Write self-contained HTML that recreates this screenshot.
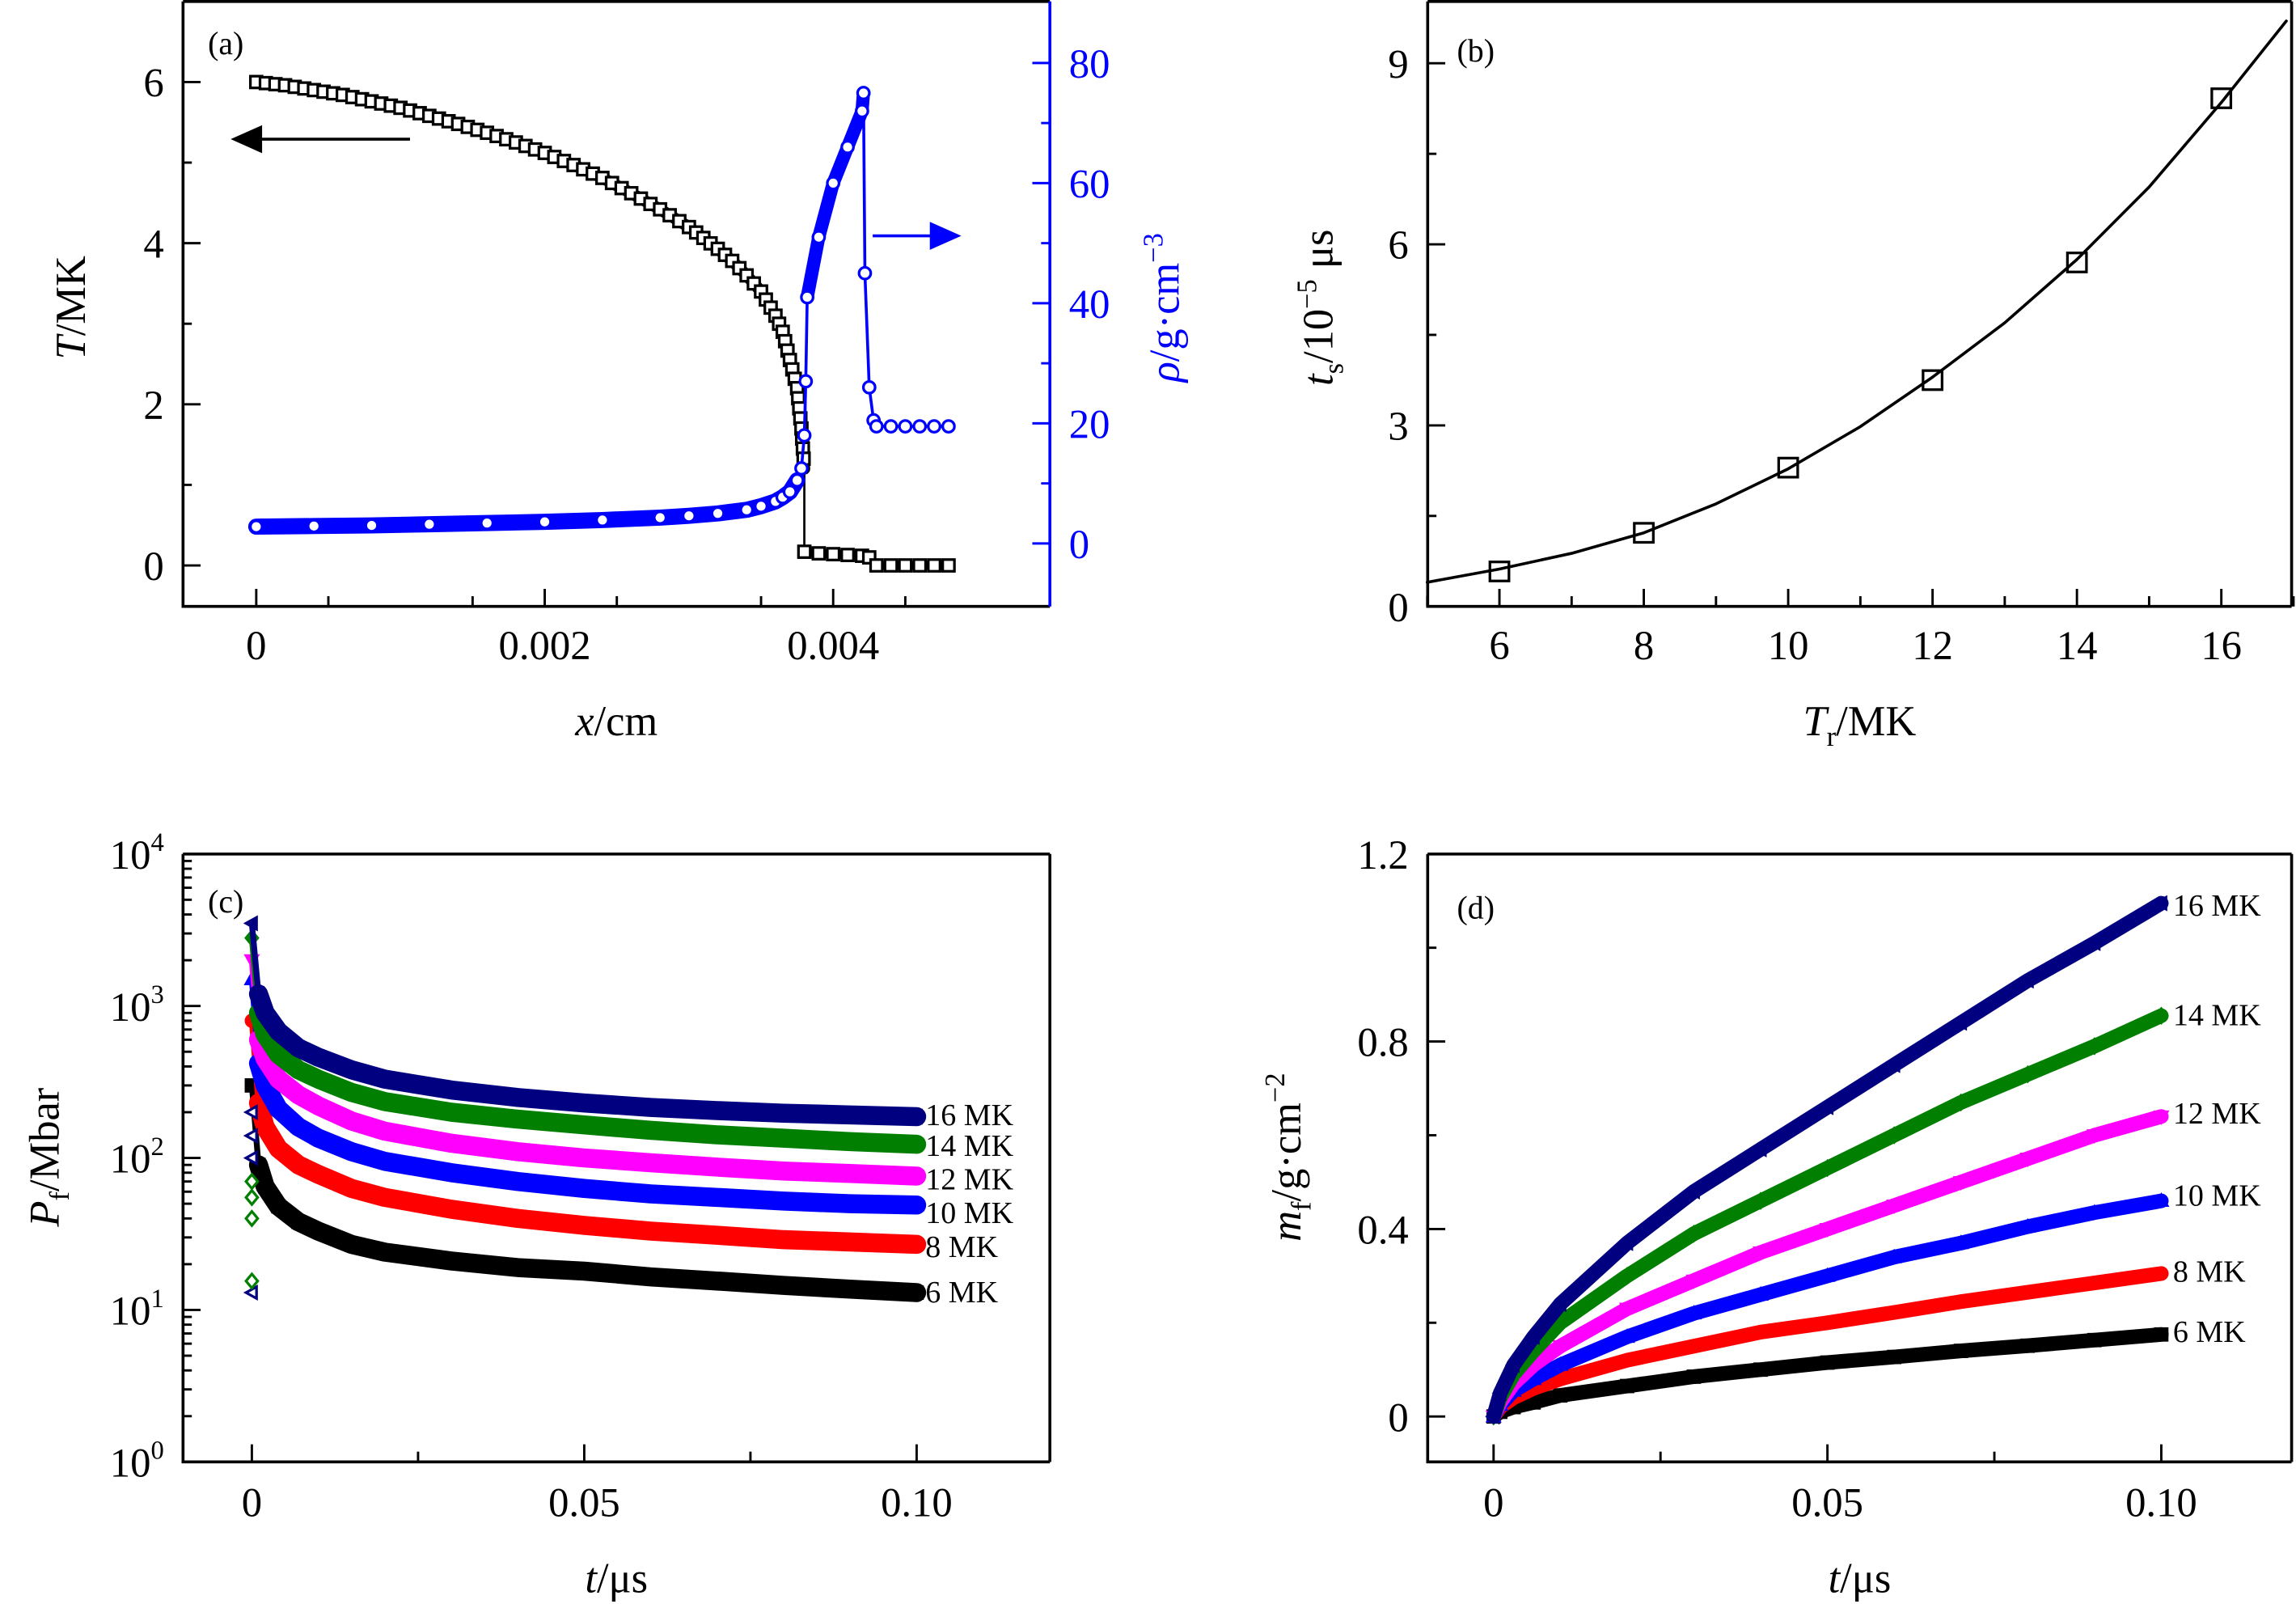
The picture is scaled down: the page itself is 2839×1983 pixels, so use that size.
<!DOCTYPE html>
<html><head><meta charset="utf-8"><style>
html,body{margin:0;padding:0;background:#fff;}
svg{display:block;font-family:"Liberation Serif",serif;}
</style></head><body>
<svg id="fig" xmlns="http://www.w3.org/2000/svg" width="2839" height="1983" viewBox="0 0 1568 1095" preserveAspectRatio="none">
<g font-size="29">
<text x="421" y="502" text-anchor="middle"><tspan font-style="italic">x</tspan>/cm</text>
<text transform="translate(58,210) rotate(-90)" text-anchor="middle"><tspan font-style="italic">T</tspan>/MK</text>
<text fill="#0000ff" transform="translate(805,210) rotate(-90)" text-anchor="middle"><tspan font-style="italic">ρ</tspan>/g·cm<tspan font-size="19" dy="-11">−3</tspan></text>
<text x="1270" y="502" text-anchor="middle"><tspan font-style="italic">T</tspan><tspan font-size="19" dy="7">r</tspan><tspan dy="-7">/MK</tspan></text>
<text transform="translate(910,210) rotate(-90)" text-anchor="middle"><tspan font-style="italic">t</tspan><tspan font-size="19" dy="7">s</tspan><tspan dy="-7">/10</tspan><tspan font-size="19" dy="-11">−5</tspan><tspan dy="11"> μs</tspan></text>
<text x="421" y="1087" text-anchor="middle"><tspan font-style="italic">t</tspan>/μs</text>
<text transform="translate(40,790) rotate(-90)" text-anchor="middle"><tspan font-style="italic">P</tspan><tspan font-size="19" dy="7">f</tspan><tspan dy="-7">/Mbar</tspan></text>
<text x="1270" y="1087" text-anchor="middle"><tspan font-style="italic">t</tspan>/μs</text>
<text transform="translate(888,790) rotate(-90)" text-anchor="middle"><tspan font-style="italic">m</tspan><tspan font-size="19" dy="7">f</tspan><tspan dy="-7">/g·cm</tspan><tspan font-size="19" dy="-11">−2</tspan></text>
</g>
</svg>
<script>
// ---- panel (a) data ----
const aX = [0,0.0002,0.0004,0.0006,0.0008,0.001,0.0012,0.0014,0.0016,0.0018,0.002,0.0022,0.0024,0.0026,0.0028,0.003,0.0032,0.0033,0.0034,0.0035,0.0036,0.00365,0.0037,0.00375,0.00378,0.0038];
const aT = [6.0,5.96,5.9,5.84,5.76,5.68,5.58,5.48,5.37,5.25,5.12,4.97,4.81,4.62,4.42,4.2,3.93,3.78,3.6,3.4,3.1,2.9,2.55,2.2,1.7,1.2];
const aX2 = [0.0038,0.0039,0.004,0.0041,0.0042,0.00425,0.0043,0.0044,0.0045,0.0046,0.0047,0.0048];
const aT2 = [0.17,0.15,0.14,0.13,0.12,0.1,0,0,0,0,0,0];
const rhoX = [0,0.0004,0.0008,0.0012,0.0016,0.002,0.0024,0.0028,0.003,0.0032,0.0034,0.0035,0.0036,0.00365,0.0037,0.00375,0.00378,0.0038,0.00381,0.00382,0.0039,0.004,0.0041,0.0042,0.00421,0.00422,0.00425,0.00428,0.0043,0.0044,0.0045,0.0046,0.0047,0.0048];
const rhoV = [2.8,2.9,3.0,3.2,3.4,3.6,3.9,4.3,4.6,5.0,5.6,6.2,7.0,7.7,8.6,10.5,12.5,18,27,41,51,60,66,72,75,45,26,20.5,19.5,19.5,19.5,19.5,19.5,19.5];
const aXTicks = [0,0.002,0.004], aXTickLabels = ['0','0.002','0.004'];
const aYTicks = [0,2,4,6], aY2Ticks = [0,20,40,60,80];
// ---- panel (b) data ----
const bT = [6,8,10,12,14,16];
const bTs = [0.58,1.22,2.3,3.75,5.7,8.42];
const bFitT = [5,6,7,8,9,10,11,12,13,14,15,16,16.9];
const bFitV = [0.4,0.62,0.88,1.22,1.7,2.28,2.98,3.8,4.7,5.75,6.95,8.35,9.7];
const bXTicks = [6,8,10,12,14,16], bYTicks = [0,3,6,9];
// ---- panel (c) data ----
const cTimes = [0,0.001,0.002,0.004,0.007,0.01,0.015,0.02,0.03,0.04,0.05,0.06,0.07,0.08,0.09,0.1];
const cP6 = [300,90,65,48,38,33,27,24,21,19,18,16.5,15.5,14.5,13.7,13];
const cP8 = [800,230,160,115,90,78,63,55,46,40,36,33,31,29,28,27];
const cP10 = [1500,420,300,210,160,135,110,95,80,70,63,58,55,52,50,49];
const cP12 = [2000,600,450,330,260,220,175,150,125,110,100,93,87,82,79,76];
const cP14 = [2800,900,650,480,380,330,270,235,200,180,165,152,142,135,128,123];
const cP16 = [3500,1200,900,680,530,460,380,330,280,250,230,215,205,197,192,187];
const cScatterP = [13,15.5,40,55,70,100,140,200];
const cLabels = ['6 MK','8 MK','10 MK','12 MK','14 MK','16 MK'];
const cXTicks = [0,0.05,0.1], cXTickLabels = ['0','0.05','0.10'];
// ---- panel (d) data ----
const dTimes = [0,0.001,0.003,0.006,0.01,0.02,0.03,0.04,0.05,0.06,0.07,0.08,0.09,0.1];
const dM6 = [0,0.01,0.02,0.03,0.045,0.065,0.085,0.1,0.115,0.127,0.14,0.151,0.163,0.175];
const dM8 = [0,0.02,0.04,0.06,0.08,0.12,0.15,0.18,0.2,0.222,0.245,0.265,0.285,0.305];
const dM10 = [0,0.025,0.055,0.08,0.11,0.17,0.22,0.26,0.3,0.34,0.37,0.405,0.435,0.46];
const dM12 = [0,0.03,0.07,0.11,0.15,0.23,0.29,0.35,0.4,0.45,0.5,0.55,0.6,0.64];
const dM14 = [0,0.04,0.09,0.14,0.2,0.3,0.39,0.46,0.53,0.6,0.67,0.73,0.79,0.855];
const dM16 = [0,0.05,0.11,0.17,0.24,0.37,0.48,0.57,0.66,0.75,0.84,0.93,1.01,1.095];
const dYTicks = [0,0.4,0.8,1.2], dYTickLabels = ['0','0.4','0.8','1.2'];

const NS='http://www.w3.org/2000/svg';
const svg=document.getElementById('fig');
function mk(tag,attrs,parent){const e=document.createElementNS(NS,tag);for(const k in attrs)e.setAttribute(k,attrs[k]);(parent||svg).appendChild(e);return e;}

const xA=v=>175+v/0.002*197, yA=v=>386-v*55, yAR=v=>371-v*4.1;
const xB=v=>1024+(v-6)*49.3, yB=v=>414-v*41.2;
const xC=v=>172+v*4540, yC=v=>998-Math.log10(v)*103.75;
const xD=v=>1020+v*4560, yD=v=>967-v*320;

function frame(name,l,t,r,b,colorRight){
  const g=mk('g',{});
  
  
  mk('path',{d:`M${l},${t}V${b}H${r}M${l},${t}H${r}`,fill:'none',stroke:'#000','stroke-width':2},g);
  mk('line',{x1:r,y1:t,x2:r,y2:b,stroke:colorRight||'#000','stroke-width':2},g);
  return g;
}
function tick(x1,y1,x2,y2,col){const l=mk('line',{x1,y1,x2,y2,stroke:col||'#000','stroke-width':1.6});
  
  
  return l;}
function label(x,y,txt,anchor,col,size){const t=mk('text',{x,y,'text-anchor':anchor||'middle',fill:col||'#000','font-size':size||28});t.textContent=txt;
  
  
  return t;}
function poly(pts,col,w,name){const p=mk('polyline',{points:pts.map(p=>p.join(',')).join(' '),fill:'none',stroke:col,'stroke-width':w,'stroke-linejoin':'round','stroke-linecap':'round'});
  
  
  return p;}
function marker(shape,x,y,s,col,fill){
  let e;
  if(shape==='sq')e=mk('rect',{x:x-s,y:y-s,width:2*s,height:2*s});
  else if(shape==='ci')e=mk('circle',{cx:x,cy:y,r:s});
  else if(shape==='tu')e=mk('polygon',{points:`${x},${y-s} ${x-s},${y+s*0.8} ${x+s},${y+s*0.8}`});
  else if(shape==='td')e=mk('polygon',{points:`${x},${y+s} ${x-s},${y-s*0.8} ${x+s},${y-s*0.8}`});
  else if(shape==='di')e=mk('polygon',{points:`${x},${y-s*1.2} ${x+s},${y} ${x},${y+s*1.2} ${x-s},${y}`});
  else e=mk('polygon',{points:`${x-s},${y} ${x+s*0.8},${y-s} ${x+s*0.8},${y+s}`});
  e.setAttribute('fill',fill||'#fff');e.setAttribute('stroke',col);e.setAttribute('stroke-width',1.8);
  
  
  return e;
}
// dense open markers along a polyline (visual texture only, drawn along data path)
function denseMarkers(pts,shape,s,col,step){
  for(let i=0;i<pts.length-1;i++){
    const [x1,y1]=pts[i],[x2,y2]=pts[i+1];
    const d=Math.hypot(x2-x1,y2-y1);const n=Math.max(1,Math.floor(d/step));
    for(let k=0;k<n;k++){marker(shape,x1+(x2-x1)*k/n,y1+(y2-y1)*k/n,s,col,'#fff');}
  }
}

// ===== Panel (a) =====
frame('panel-a',125,1,717,414,'#0000ff');
aXTicks.forEach((v,i)=>{tick(xA(v),414,xA(v),402);label(xA(v),450,aXTickLabels[i]);});
for(let v=0.0005;v<0.0055;v+=0.001)tick(xA(v),414,xA(v),407);
aYTicks.forEach(v=>{tick(125,yA(v),137,yA(v));label(112,yA(v)+10,String(v),'end');});
[1,3,5].forEach(v=>tick(125,yA(v),131,yA(v)));
aY2Ticks.forEach(v=>{tick(717,yAR(v),705,yAR(v),'#0000ff');label(730,yAR(v)+10,String(v),'start','#0000ff');});
[10,30,50,70].forEach(v=>tick(717,yAR(v),711,yAR(v),'#0000ff'));
const tPts=aX.map((v,i)=>[xA(v),yA(aT[i])]);
poly(tPts,'#000',8,'temperature-curve');
denseMarkers(tPts,'sq',4,'#000',6);
poly([[xA(aX[aX.length-1]),yA(aT[aT.length-1])],[xA(aX2[0]),yA(aT2[0])]],'#000',1.5,'temperature-drop');
poly(aX2.map((v,i)=>[xA(v),yA(aT2[i])]),'#000',6,'temperature-tail');
aX2.forEach((v,i)=>marker('sq',xA(v),yA(aT2[i]),4,'#000'));
poly(rhoX.map((v,i)=>[xA(v),yAR(rhoV[i])]),'#0000ff',2,'density-line');
poly(rhoX.slice(0,16).map((v,i)=>[xA(v),yAR(rhoV[i])]),'#0000ff',11,'density-dense');
poly(rhoX.slice(19,25).map((v,i)=>[xA(v),yAR(rhoV[i+19])]),'#0000ff',9,'density-peak');
rhoX.forEach((v,i)=>marker('ci',xA(v),yAR(rhoV[i]),4,'#0000ff'));
const pa=label(142,37,'(a)','start','#000',22);
let ar=mk('path',{d:'M280,95H176M160,95L178,87V103Z',stroke:'#000','stroke-width':2,fill:'#000'});


ar=mk('path',{d:'M596,161H638M654,161L636,153V169Z',stroke:'#0000ff','stroke-width':2,fill:'#0000ff'});



// ===== Panel (b) =====
frame('panel-b',975,1,1565,414);
bXTicks.forEach(v=>{tick(xB(v),414,xB(v),402);label(xB(v),450,String(v));});
[5,7,9,11,13,15,17].forEach(v=>tick(xB(v),414,xB(v),407));
bYTicks.forEach(v=>{tick(975,yB(v),987,yB(v));label(962,yB(v)+10,String(v),'end');});
[1.5,4.5,7.5].forEach(v=>tick(975,yB(v),981,yB(v)));
poly(bFitT.map((v,i)=>[xB(v),yB(bFitV[i])]),'#000',2,'fit-curve');
bT.forEach((v,i)=>marker('sq',xB(v),yB(bTs[i]),6.5,'#000','none'));
const pb=label(995,42,'(b)','start','#000',22);

// ===== Panel (c) =====
frame('panel-c',125,583,717,998);
cXTicks.forEach((v,i)=>{tick(xC(v),998,xC(v),986);label(xC(v),1035,cXTickLabels[i]);});
[0.025,0.075].forEach(v=>tick(xC(v),998,xC(v),991));
[0,1,2,3,4].forEach(e=>{tick(125,yC(Math.pow(10,e)),137,yC(Math.pow(10,e)));
  const t=mk('text',{x:112,y:yC(Math.pow(10,e))+10,'text-anchor':'end','font-size':28});
  
  
  t.innerHTML='10<tspan font-size="18" dy="-12">'+e+'</tspan>';});
for(let e=0;e<4;e++)for(let m=2;m<10;m++)tick(125,yC(m*Math.pow(10,e)),131,yC(m*Math.pow(10,e)));
const cSeries=[cP6,cP8,cP10,cP12,cP14,cP16];
const cCols=['#000','#ff0000','#0000ff','#ff00ff','#007f00','#000080'];
const cShapes=['sq','ci','tu','td','di','tl'];
const cLabY=[889,858,835,812,789,768];
cSeries.forEach((s,k)=>{
  poly(cTimes.slice(1).map((t,i)=>[xC(t),yC(s[i+1])]),cCols[k],13,'pressure-curve');
  poly([[xC(0),yC(s[0])],[xC(cTimes[1]),yC(s[1])]],cCols[k],4,'pressure-spike');
  cTimes.forEach((t,i)=>marker(cShapes[k],xC(t),yC(s[i]),4,cCols[k],cCols[k]));
  const l=label(632,cLabY[k],cLabels[k],'start','#000',21);
  
});
cScatterP.forEach((p,i)=>marker(i<5&&i>0?'di':'tl',xC(0),yC(p),4,i<5&&i>0?'#007f00':'#000080'));
const pc=label(142,623,'(c)','start','#000',22);

// ===== Panel (d) =====
frame('panel-d',975,583,1565,998);
cXTicks.forEach((v,i)=>{tick(xD(v),998,xD(v),986);label(xD(v),1035,cXTickLabels[i]);});
[0.025,0.075].forEach(v=>tick(xD(v),998,xD(v),991));
dYTicks.forEach((v,i)=>{tick(975,yD(v),987,yD(v));label(962,yD(v)+10,dYTickLabels[i],'end');});
[0.2,0.6,1.0].forEach(v=>tick(975,yD(v),981,yD(v)));
const dSeries=[dM6,dM8,dM10,dM12,dM14,dM16];
const dLabY=[916,875,823,767,700,625];
dSeries.forEach((s,k)=>{
  poly(dTimes.map((t,i)=>[xD(t),yD(s[i])]),cCols[k],10,'mass-curve');
  dTimes.forEach((t,i)=>marker(cShapes[k],xD(t),yD(s[i]),4,cCols[k],cCols[k]));
  const l=label(1484,dLabY[k],cLabels[k],'start','#000',21);
  
});
const pd=label(995,627,'(d)','start','#000',22);
</script>
</body></html>
